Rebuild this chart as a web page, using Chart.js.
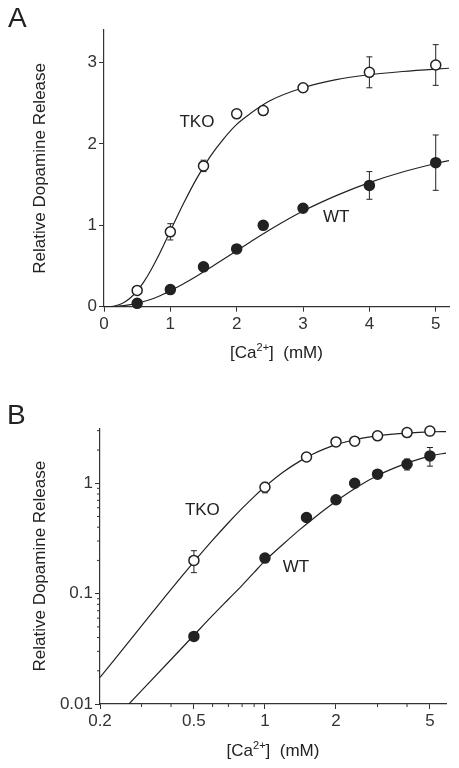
<!DOCTYPE html>
<html>
<head>
<meta charset="utf-8">
<script src="https://cdn.jsdelivr.net/npm/chart.js@4"></script>
<style>
  body { margin: 0; background: #fff; }
  #wrap { position: relative; width: 459px; height: 768px; }
  canvas { position: absolute; left: 0; }
  .lbl { position: absolute; font: 28px "Liberation Sans", Arial, sans-serif; line-height: 28px; color: #222; }
</style>
</head>
<body>
<div id="wrap">
  <canvas id="chartA" width="459" height="380" style="top:0"></canvas>
  <canvas id="chartB" width="459" height="388" style="top:380px"></canvas>
  <div class="lbl" style="left:8px;top:4px">A</div>
  <div class="lbl" style="left:7px;top:401px">B</div>
</div>
<script>
// measured points
var calcium = [0.5, 1, 1.5, 2, 2.4, 3, 4, 5]
var tkoRelease = [0.20, 0.92, 1.73, 2.37, 2.41, 2.69, 2.88, 2.97]
var tkoErr = [0.045, 0.1, 0.07, 0, 0, 0.05, 0.19, 0.25]
var wtRelease = [0.041, 0.21, 0.49, 0.71, 1.0, 1.21, 1.49, 1.77]
var wtErr = [0, 0, 0, 0, 0, 0, 0.17, 0.34]

// fitted curves
var fitCa = [0, 0.1, 0.2, 0.3, 0.4, 0.5, 0.6, 0.7, 0.8, 0.9, 1.0, 1.2, 1.4, 1.6, 1.8, 2.0, 2.2, 2.5, 3.0, 3.5, 4.0, 4.5, 5.0, 5.2, 5.85]
var fitTko = [0, 0.0006, 0.0174, 0.051, 0.1095, 0.194, 0.305, 0.439, 0.592, 0.758, 0.93, 1.27, 1.58, 1.845, 2.06, 2.24, 2.37, 2.53, 2.69, 2.79, 2.85, 2.89, 2.92, 2.93, 2.94]
var fitWt = [0, 0.0011, 0.0053, 0.0132, 0.0253, 0.042, 0.0635, 0.089, 0.119, 0.156, 0.198, 0.283, 0.378, 0.478, 0.582, 0.688, 0.792, 0.945, 1.175, 1.365, 1.525, 1.655, 1.76, 1.795, 1.88]

// ticks
var xTicksA = [0, 1, 2, 3, 4, 5]
var yTicksA = [0, 1, 2, 3]
var xTicksB = [0.2, 0.5, 1, 2, 5]
var xMinorB = [0.3, 0.4, 0.6, 0.7, 0.8, 0.9, 3, 4]
var yTicksB = [0.01, 0.1, 1]
var yMinorB = [0.02, 0.03, 0.04, 0.05, 0.06, 0.07, 0.08, 0.09, 0.2, 0.3, 0.4, 0.5, 0.6, 0.7, 0.8, 0.9, 2, 3]

var INK = '#222'
var FONT = '"Liberation Sans", Arial, sans-serif'

function pts(xs, ys, xMin) {
  var out = []
  for (var i = 0; i < xs.length; i++) {
    if (xMin !== undefined && (xs[i] < xMin || ys[i] <= 0)) continue
    out.push({ x: xs[i], y: ys[i] })
  }
  return out
}

function errorBars(chart, xs, ys, errs) {
  var ctx = chart.ctx
  var sx = chart.scales.x, sy = chart.scales.y
  ctx.save()
  ctx.strokeStyle = INK
  ctx.lineWidth = 1
  for (var i = 0; i < xs.length; i++) {
    if (!errs[i]) continue
    var px = sx.getPixelForValue(xs[i])
    var top = sy.getPixelForValue(ys[i] + errs[i])
    var bot = sy.getPixelForValue(ys[i] - errs[i])
    ctx.beginPath()
    ctx.moveTo(px, top); ctx.lineTo(px, bot)
    ctx.moveTo(px - 3, top); ctx.lineTo(px + 3, top)
    ctx.moveTo(px - 3, bot); ctx.lineTo(px + 3, bot)
    ctx.stroke()
  }
  ctx.restore()
}

var errPlugin = {
  id: 'errPlugin',
  beforeDatasetsDraw: function (chart) {
    errorBars(chart, calcium, tkoRelease, tkoErr)
    errorBars(chart, calcium, wtRelease, wtErr)
  }
}

var textPlugin = {
  id: 'textPlugin',
  afterDraw: function (chart, args, opts) {
    var ctx = chart.ctx
    var sx = chart.scales.x, sy = chart.scales.y
    var area = chart.chartArea
    ctx.save()
    ctx.fillStyle = INK
    ctx.font = '17px ' + FONT
    ctx.textBaseline = 'middle'
    ctx.textAlign = 'center'
    opts.labels.forEach(function (l) {
      ctx.fillText(l.text, sx.getPixelForValue(l.x), sy.getPixelForValue(l.y))
    })
    // x title with superscript
    var big = '17px ' + FONT, small = '11px ' + FONT
    var parts = [['[Ca', big, 0], ['2+', small, -7], [']  (mM)', big, 0]]
    var w = 0
    parts.forEach(function (p) { ctx.font = p[1]; w += ctx.measureText(p[0]).width })
    var x = (area.left + area.right) / 2 - w / 2
    var y = area.bottom + 51.5
    ctx.textAlign = 'left'
    ctx.textBaseline = 'alphabetic'
    parts.forEach(function (p) {
      ctx.font = p[1]
      ctx.fillText(p[0], x, y + p[2])
      x += ctx.measureText(p[0]).width
    })
    // minor ticks
    if (opts.minorX) {
      ctx.strokeStyle = '#333'
      ctx.lineWidth = 1
      ctx.beginPath()
      opts.minorX.forEach(function (v) {
        var px = sx.getPixelForValue(v)
        ctx.moveTo(px, area.bottom); ctx.lineTo(px, area.bottom + 3)
      })
      opts.minorY.forEach(function (v) {
        var py = sy.getPixelForValue(v)
        ctx.moveTo(area.left, py); ctx.lineTo(area.left - 3, py)
      })
      ctx.stroke()
    }
    ctx.restore()
  }
}

function datasets(xMin) {
  return [
    { data: pts(calcium, tkoRelease, xMin), pointRadius: 5, pointBackgroundColor: '#fff', pointBorderColor: INK, pointBorderWidth: 1.5, showLine: false, clip: false },
    { data: pts(calcium, wtRelease, xMin), pointRadius: 5, pointBackgroundColor: INK, pointBorderColor: INK, pointBorderWidth: 1.5, showLine: false, clip: false },
    { data: pts(fitCa, fitTko, xMin), showLine: true, pointRadius: 0, borderColor: INK, borderWidth: 1.2, cubicInterpolationMode: 'monotone' },
    { data: pts(fitCa, fitWt, xMin), showLine: true, pointRadius: 0, borderColor: INK, borderWidth: 1.2, cubicInterpolationMode: 'monotone' }
  ]
}

function axis(type, min, max, ticks, extra) {
  var a = {
    type: type, min: min, max: max,
    grid: { drawOnChartArea: false, drawTicks: true, tickLength: 5, tickColor: '#333', tickWidth: 1 },
    border: { display: true, color: '#333', width: 1.2 },
    ticks: { color: '#333', font: { family: FONT, size: 17 }, padding: 2, maxRotation: 0, autoSkip: false, callback: function (v) { return String(v) } },
    afterBuildTicks: function (s) { s.ticks = ticks.map(function (v) { return { value: v } }) }
  }
  for (var k in extra) a[k] = extra[k]
  return a
}

function yTitle() {
  return { display: true, text: 'Relative Dopamine Release', color: INK, font: { family: FONT, size: 17 }, padding: { top: 30, bottom: 0 } }
}

new Chart(document.getElementById('chartA'), {
  type: 'scatter',
  data: { datasets: datasets() },
  options: {
    responsive: false, animation: false,
    layout: { padding: { top: 30, right: 10, left: 0, bottom: 0 } },
    plugins: {
      legend: { display: false }, tooltip: { enabled: false },
      textPlugin: { labels: [{ text: 'TKO', x: 1.4, y: 2.26 }, { text: 'WT', x: 3.5, y: 1.1 }] }
    },
    scales: {
      x: axis('linear', 0, 5.2, xTicksA, { afterFit: function (s) { s.height = 73.3 } }),
      y: axis('linear', 0, 3.4, yTicksA, { afterFit: function (s) { s.width = 104 }, title: yTitle() })
    }
  },
  plugins: [errPlugin, textPlugin]
})

new Chart(document.getElementById('chartB'), {
  type: 'scatter',
  data: { datasets: datasets(0.2) },
  options: {
    responsive: false, animation: false,
    layout: { padding: { top: 48.3, right: 13, left: 0, bottom: 0 } },
    plugins: {
      legend: { display: false }, tooltip: { enabled: false },
      textPlugin: { labels: [{ text: 'TKO', x: 0.543, y: 0.573 }, { text: 'WT', x: 1.354, y: 0.175 }], minorX: xMinorB, minorY: yMinorB }
    },
    scales: {
      x: axis('logarithmic', 0.2, 5.85, xTicksB, { afterFit: function (s) { s.height = 64 } }),
      y: axis('logarithmic', 0.01, 3.15, yTicksB, { afterFit: function (s) { s.width = 100 }, title: yTitle() })
    }
  },
  plugins: [errPlugin, textPlugin]
})
</script>
</body>
</html>
